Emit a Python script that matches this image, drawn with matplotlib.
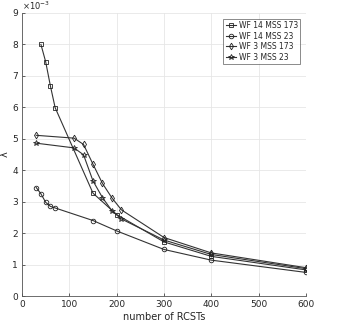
import matplotlib
matplotlib.use("Agg")
import matplotlib.pyplot as plt
import numpy as np

x_wf14_173 = [40, 50, 60, 70, 150, 200, 300, 400, 600]
y_wf14_173 = [8.0, 7.45, 6.68, 5.99, 3.27, 2.59, 1.72, 1.26, 0.83]
x_wf14_23 = [30, 40, 50, 60, 70, 150, 200, 300, 400, 600]
y_wf14_23 = [3.45, 3.25, 2.98, 2.85, 2.80, 2.40, 2.07, 1.48, 1.14, 0.75]
x_wf3_173 = [30, 110, 130, 150, 170, 190, 210, 300, 400, 600]
y_wf3_173 = [5.11, 5.02, 4.82, 4.19, 3.58, 3.12, 2.74, 1.86, 1.37, 0.90]
x_wf3_23 = [30, 110, 130, 150, 170, 190, 210, 300, 400, 600]
y_wf3_23 = [4.86, 4.71, 4.49, 3.66, 3.13, 2.71, 2.45, 1.78, 1.32, 0.87]

labels = ["WF 14 MSS 173", "WF 14 MSS 23", "WF 3 MSS 173", "WF 3 MSS 23"]
xticks = [0, 100, 200, 300, 400, 500, 600]
yticks = [0, 1, 2, 3, 4, 5, 6, 7, 8, 9]

fig = plt.figure(figsize=(3.41, 3.24), dpi=100)
ax = fig.add_axes([22/341, 28/324, 284/341, 283/324])

lc = '#262626'
kw = dict(color='#333333', lw=0.8, mfc='none', mec='#222222', mew=0.6)
ax.plot(x_wf14_173, np.array(y_wf14_173), marker='s', ms=3.0, label=labels[0], **kw)
ax.plot(x_wf14_23, np.array(y_wf14_23), marker='o', ms=3.3, label=labels[1], **kw)
ax.plot(x_wf3_173, np.array(y_wf3_173), marker='d', ms=3.4, label=labels[2], **kw)
ax.plot(x_wf3_23, np.array(y_wf3_23), marker='*', ms=4.0, label=labels[3], **kw)

ax.set_xlim(0, 600)
ax.set_ylim(0, 9)
ax.set_xticks(xticks)
ax.set_yticks(yticks)
ax.set_xticklabels([str(v) for v in xticks])
ax.set_yticklabels([str(v) for v in yticks])
ax.grid(True, color='#e6e6e6', lw=0.6)
ax.set_axisbelow(True)
for s in ['top', 'right']:
    ax.spines[s].set_visible(False)
for s in ['left', 'bottom']:
    ax.spines[s].set_color('#555555')
    ax.spines[s].set_linewidth(0.6)
ax.tick_params(axis='both', labelsize=6.5, colors=lc, length=2, width=0.5, direction='in', pad=3)
ax.tick_params(axis='both', labelcolor=lc)

ax.set_xlabel("number of RCSTs", fontsize=7, color=lc, labelpad=2)
ax.set_ylabel("λ", fontsize=7, color=lc)
ax.yaxis.set_label_coords(-0.045, 0.5)
ax.text(0.0, 1.005, r"$\times10^{-3}$", transform=ax.transAxes, fontsize=6, color=lc,
        ha='left', va='bottom')

leg = ax.legend(loc='upper right', bbox_to_anchor=(0.985, 0.985), fontsize=5.5,
                frameon=True, fancybox=False, edgecolor='#555555', handlelength=1.4,
                handletextpad=0.3, borderpad=0.3, labelspacing=0.2, borderaxespad=0.2)
leg.get_frame().set_linewidth(0.6)
for t in leg.get_texts():
    t.set_color(lc)

fig.savefig("out.png", dpi=100)
